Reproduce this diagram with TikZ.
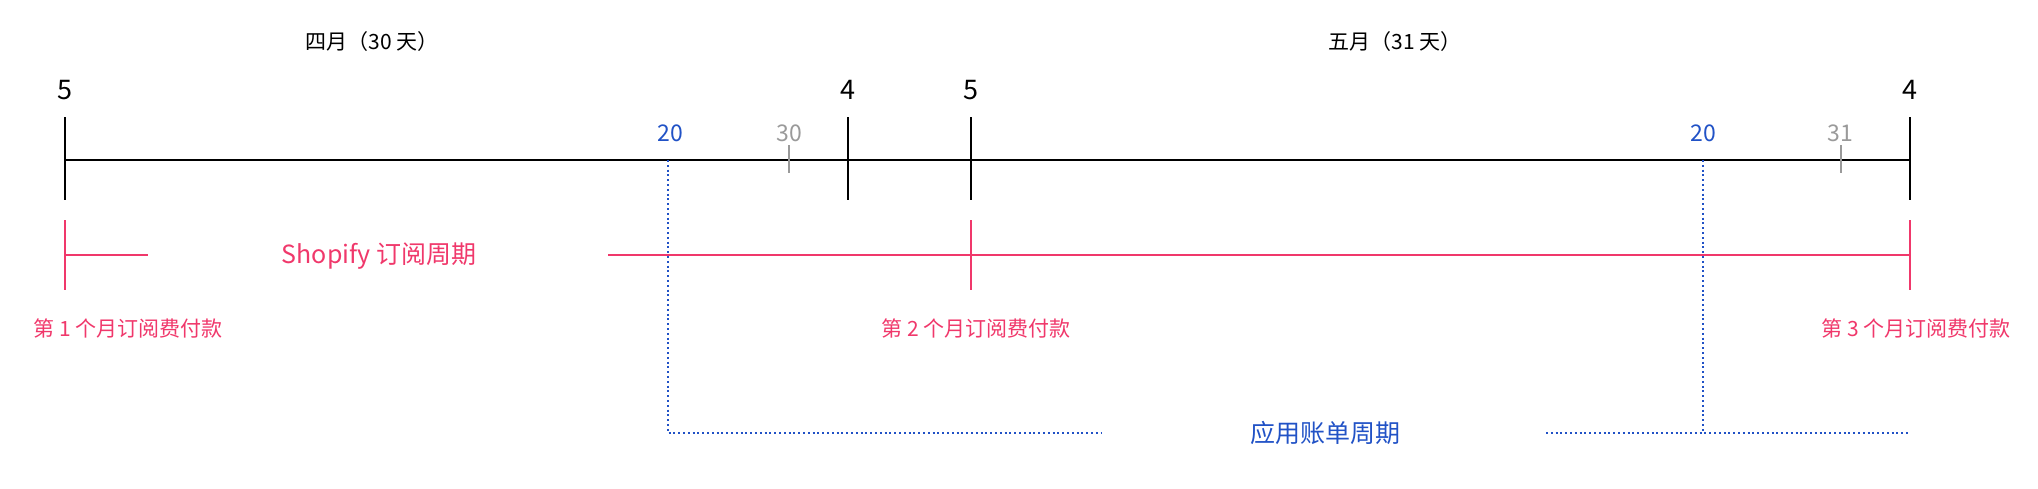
\documentclass[tikz,border=0pt]{standalone}
\usepackage{fontspec}
\setmainfont{Noto Sans CJK SC}
\usepackage{xcolor}
\definecolor{subpink}{HTML}{F0386B}
\definecolor{billblue}{HTML}{2152C6}
\definecolor{daygray}{HTML}{9A9A9A}

\begin{document}
\begin{tikzpicture}[x=0.5pt,y=-0.5pt,
  axis/.style={line width=1.3pt,black},
  sub/.style={line width=1.3pt,subpink},
  bill/.style={line width=1pt,billblue,dash pattern=on 1pt off 1.4pt},
  daytick/.style={line width=0.8pt,daygray},
  txt/.style={inner sep=0pt,font=\fontsize{#1}{#1}\selectfont}]
\useasboundingbox(0,0)rectangle(2038,488);
% main time axis
\coordinate(s)at(65,160);\coordinate(e)at(1910,160);
\draw[axis](s)--(e);
\foreach \n/\x/\d in {a/65/5,b/848/4,c/971/5,d/1910/4}{
  \coordinate(\n1)at(\x,117);\coordinate(\n2)at(\x,200);
  \draw[axis](\n1)--(\n2);
  \node[txt=13.5](l\n)at(\x,90){\d};}
\node[txt=10.5](apr)at(372,42){四月（30 天）};
\node[txt=10.5](may)at(1395,42){五月（31 天）};
% day marks
\node[txt=11.5,billblue](b1)at(670,133){20};
\node[txt=11.5,billblue](b2)at(1703,133){20};
\node[txt=11.5,daygray](m1)at(789,133){30};
\node[txt=11.5,daygray](m2)at(1840,133){31};
\coordinate(t1)at(789,145);\coordinate(t2)at(789,173);
\coordinate(t3)at(1841,145);\coordinate(t4)at(1841,173);
\draw[daytick](t1)--(t2);\draw[daytick](t3)--(t4);
% subscription cycle
\foreach \n/\x in {p/65,q/971,r/1910}{
  \coordinate(\n1)at(\x,220);\coordinate(\n2)at(\x,290);
  \draw[sub](\n1)--(\n2);}
\coordinate(p0)at(65,255);\coordinate(g1)at(148,255);
\coordinate(g2)at(608,255);\coordinate(r0)at(1910,255);
\draw[sub](p0)--(g1);\draw[sub](g2)--(r0);
\node[txt=12.5,subpink](shop)at(379,256){Shopify 订阅周期};
\node[txt=10.5,subpink](pay1)at(128,328){第 1 个月订阅费付款};
\node[txt=10.5,subpink](pay2)at(976,328){第 2 个月订阅费付款};
\node[txt=10.5,subpink](pay3)at(1916,328){第 3 个月订阅费付款};
% app billing cycle
\coordinate(v1)at(668,160);\coordinate(v2)at(668,433);
\coordinate(w1)at(1703,160);\coordinate(w2)at(1703,433);
\coordinate(h1)at(1102,433);\coordinate(h2)at(1546,433);\coordinate(h3)at(1910,433);
\draw[bill](v1)--(v2)--(h1);\draw[bill](w1)--(w2);\draw[bill](h2)--(h3);
\node[txt=12.5,billblue](app)at(1325,433){应用账单周期};
\end{tikzpicture}
\end{document}
